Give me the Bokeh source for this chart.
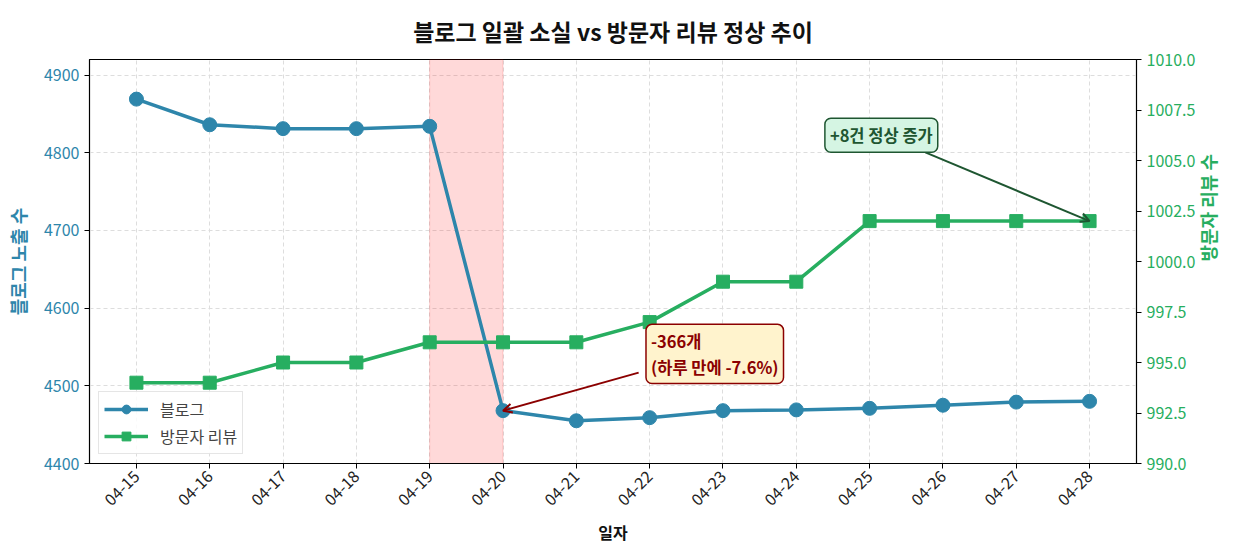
from bokeh.plotting import figure
from bokeh.models import (Range1d, LinearAxis, FixedTicker, BoxAnnotation, Label, Arrow,
                          OpenHead, Legend, LegendItem, PrintfTickFormatter)
from bokeh.embed import file_html
from bokeh.resources import INLINE
import numpy as np

dates = ["04-15", "04-16", "04-17", "04-18", "04-19", "04-20", "04-21",
         "04-22", "04-23", "04-24", "04-25", "04-26", "04-27", "04-28"]
blog = [4869, 4836, 4831, 4831, 4834, 4468, 4455, 4459, 4468, 4469, 4471, 4475, 4479, 4480]
reviews = [994, 994, 995, 995, 996, 996, 996, 997, 999, 999, 1002, 1002, 1002, 1002]
left_ticks = [4400, 4500, 4600, 4700, 4800, 4900]
right_ticks = [990, 992.5, 995, 997.5, 1000, 1002.5, 1005, 1007.5, 1010]

FONT = "Noto Sans CJK KR"
BLUE = "#2E86AB"
GREEN = "#27AE60"

x = list(range(len(dates)))

p = figure(width=1236, height=547, output_backend="svg", toolbar_location=None,
           x_range=Range1d(-0.64, len(dates) - 1 + 0.64),
           y_range=Range1d(4400, 4920),
           min_border_left=89, min_border_right=100, min_border_top=59, min_border_bottom=83)
p.extra_y_ranges = {"rev": Range1d(990, 1010)}

p.title.text = "블로그 일괄 소실 vs 방문자 리뷰 정상 추이"
p.title.align = "center"
p.title.text_font = FONT
p.title.text_font_size = "23px"
p.title.text_font_style = "bold"
p.title.text_color = "#111111"
p.title.standoff = 23

p.outline_line_color = "black"
p.outline_line_width = 1.2
p.background_fill_color = "white"

# grids
p.xgrid.grid_line_color = "#dddddd"
p.xgrid.grid_line_dash = "4 3"
p.ygrid.grid_line_color = "#dddddd"
p.ygrid.grid_line_dash = "4 3"

# x axis
p.xaxis.ticker = FixedTicker(ticks=x)
p.xaxis.major_label_overrides = {i: d for i, d in enumerate(dates)}
p.xaxis.major_label_orientation = np.pi / 4
p.xaxis.axis_label = "일자"
for ax in [p.xaxis[0], p.yaxis[0]]:
    ax.major_label_text_font = FONT
    ax.major_label_text_font_size = "16px"
    ax.axis_label_text_font = FONT
    ax.axis_label_text_font_style = "bold"
    ax.minor_tick_line_color = None
    ax.major_tick_out = 5
    ax.major_tick_in = 0
    ax.axis_line_color = "black"
    ax.major_tick_line_color = "black"
p.xaxis.major_label_text_color = "#222222"
p.xaxis.axis_label_text_color = "#111111"
p.xaxis.axis_label_text_font_size = "16px"
p.xaxis.axis_label_standoff = 6

p.yaxis.ticker = FixedTicker(ticks=left_ticks)
p.yaxis.axis_label = "블로그 노출 수"
p.yaxis.axis_label_text_color = BLUE
p.yaxis.axis_label_text_font_size = "18px"
p.yaxis.major_label_text_color = BLUE
p.yaxis.axis_label_standoff = 10

ax2 = LinearAxis(y_range_name="rev", ticker=FixedTicker(ticks=right_ticks),
                 formatter=PrintfTickFormatter(format="%.1f"))
ax2.major_label_text_font = FONT
ax2.major_label_text_font_size = "16px"
ax2.major_label_text_color = GREEN
ax2.minor_tick_line_color = None
ax2.major_tick_out = 5
ax2.major_tick_in = 0
p.add_layout(ax2, "right")

# right axis title (reads bottom-to-top): tick-less axis carrying only the label
ax3 = LinearAxis(y_range_name="rev", ticker=FixedTicker(ticks=[]),
                 axis_label="방문자 리뷰 수")
ax3.axis_line_color = None
ax3.major_tick_line_color = None
ax3.minor_tick_line_color = None
ax3.major_label_text_font_size = "0px"
ax3.axis_label_text_font = FONT
ax3.axis_label_text_font_size = "18px"
ax3.axis_label_text_font_style = "bold"
ax3.axis_label_text_color = GREEN
ax3.axis_label_orientation = np.pi / 2
ax3.axis_label_standoff = 9
p.add_layout(ax3, "right")

# shaded drop region
p.add_layout(BoxAnnotation(left=4, right=5, fill_color="#ff0000", fill_alpha=0.15,
                           line_color="#ff0000", line_alpha=0.15, level="underlay"))

# series
l1 = p.line(x, blog, line_color=BLUE, line_width=3.5)
m1 = p.scatter(x, blog, marker="circle", size=14, fill_color=BLUE, line_color=BLUE)
l2 = p.line(x, reviews, line_color=GREEN, line_width=3.5, y_range_name="rev")
m2 = p.scatter(x, reviews, marker="square", size=13, fill_color=GREEN, line_color=GREEN,
               y_range_name="rev")

legend = Legend(items=[LegendItem(label="블로그", renderers=[l1, m1]),
                       LegendItem(label="방문자 리뷰", renderers=[l2, m2])],
                location="bottom_left")
legend.label_text_font = FONT
legend.label_text_font_size = "16px"
legend.border_line_color = "#cccccc"
legend.border_line_width = 1
legend.background_fill_alpha = 0.85
legend.glyph_width = 44
legend.glyph_height = 22
legend.margin = 9
legend.padding = 5
legend.spacing = 3
legend.label_standoff = 12
p.add_layout(legend)

# annotations
drop_i = 5
p.add_layout(Arrow(end=OpenHead(size=9, line_color="#8B0000", line_width=2),
                   x_start=6.85, y_start=4517, x_end=drop_i, y_end=blog[drop_i],
                   line_color="#8B0000", line_width=2))
p.add_layout(Label(x=6.95, y=4541, text="-366개\n(하루 만에 -7.6%)",
                   text_font=FONT, text_font_size="16.5px", text_font_style="bold",
                   text_color="#8B0000", text_baseline="middle", text_line_height=1.05,
                   background_fill_color="#FFF3CD", border_line_color="#8B0000",
                   border_line_width=1.5, padding=5, border_radius=6))

last = len(dates) - 1
p.add_layout(Arrow(end=OpenHead(size=9, line_color="#1E5631", line_width=2),
                   x_start=10.76, y_start=1005.4, x_end=last, y_end=reviews[last],
                   y_range_name="rev", line_color="#1E5631", line_width=2))
p.add_layout(Label(x=9.39, y=1006.25, y_range_name="rev", text="+8건 정상 증가",
                   text_font=FONT, text_font_size="16.5px", text_font_style="bold",
                   text_color="#1E5631", text_baseline="middle",
                   background_fill_color="#D5F5E3", border_line_color="#1E5631",
                   border_line_width=1.5, padding=5, border_radius=6))

open("out.html", "w").write(file_html(p, INLINE))
